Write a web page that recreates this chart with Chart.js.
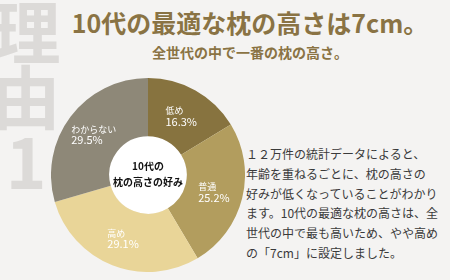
<!DOCTYPE html>
<html>
<head>
<meta charset="utf-8">
<script src="https://cdn.jsdelivr.net/npm/chart.js@4/dist/chart.umd.min.js"></script>
<style>
html,body{margin:0;padding:0;}
body{width:450px;height:280px;background:#f4f3f2;position:relative;overflow:hidden;font-family:"Noto Sans CJK JP","Noto Sans",sans-serif;}
#side{position:absolute;left:-9px;top:-3px;width:70px;font-size:69px;font-weight:bold;line-height:65px;color:#dcdad8;text-align:center;}
#title{position:absolute;left:50px;width:400px;top:6px;text-align:center;font-size:25px;font-weight:bold;color:#8a7344;line-height:32px;white-space:nowrap;}
#sub{position:absolute;left:50px;width:400px;top:42px;text-align:center;font-size:14px;font-weight:bold;color:#8a7344;line-height:20px;white-space:nowrap;}
#para{position:absolute;left:246px;top:144px;font-size:12px;line-height:19.8px;color:#3a3a3a;white-space:nowrap;}
#wrap{position:absolute;left:51px;top:78px;width:194px;height:194px;}
</style>
</head>
<body>
<div id="side">理<br>由<br>1</div>
<div id="title">10代の最適な枕の高さは7cm。</div>
<div id="sub">全世代の中で一番の枕の高さ。</div>
<div id="para">１２万件の統計データによると、<br>年齢を重ねるごとに、枕の高さの<br>好みが低くなっていることがわかり<br>ます。10代の最適な枕の高さは、全<br>世代の中で最も高いため、やや高め<br>の「7cm」に設定しました。</div>
<div id="wrap"><canvas id="c"></canvas></div>
<script>
const categories = ['低め', '普通', '高め', 'わからない'];
const values = [16.3, 25.2, 29.1, 29.5];
const colors = ['#87733f', '#b29d5e', '#e9d598', '#8e8878'];
const centerLines = ['10代の', '枕の高さの好み'];

const labelPlugin = {
  id: 'sliceLabels',
  afterDatasetsDraw(chart) {
    const ctx = chart.ctx;
    const meta = chart.getDatasetMeta(0);
    ctx.save();
    ctx.fillStyle = '#ffffff';
    ctx.textBaseline = 'middle';
    ctx.textAlign = 'left';
    const catFont = '9px "Noto Sans CJK JP", sans-serif';
    const valFont = '11px "Noto Sans CJK JP", sans-serif';
    meta.data.forEach((arc, i) => {
      const p = arc.getProps(['x','y','startAngle','endAngle','innerRadius','outerRadius'], true);
      const mid = (p.startAngle + p.endAngle) / 2;
      const r = p.innerRadius + (p.outerRadius - p.innerRadius) * 0.5;
      const ax = p.x + Math.cos(mid) * r;
      const ay = p.y + Math.sin(mid) * r;
      const cat = categories[i];
      const val = values[i].toFixed(1) + '%';
      ctx.font = catFont;
      const w1 = ctx.measureText(cat).width;
      ctx.font = valFont;
      const w2 = ctx.measureText(val).width;
      const w = Math.max(w1, w2);
      const x0 = ax - w / 2;
      ctx.font = catFont;
      ctx.fillText(cat, x0, ay - 5);
      ctx.font = valFont;
      ctx.fillText(val, x0, ay + 6);
    });
    const a = meta.data[0];
    ctx.fillStyle = '#111111';
    ctx.textAlign = 'center';
    ctx.font = 'bold 10px "Noto Sans CJK JP", sans-serif';
    ctx.fillText(centerLines[0], a.x, a.y - 9);
    ctx.fillText(centerLines[1], a.x, a.y + 7);
    ctx.restore();
  }
};

const bgPlugin = {
  id: 'holeFill',
  beforeDatasetsDraw(chart) {
    const a = chart.getDatasetMeta(0).data[0];
    if (!a) return;
    const ctx = chart.ctx;
    ctx.save();
    ctx.fillStyle = '#ffffff';
    ctx.beginPath();
    ctx.arc(a.x, a.y, a.innerRadius, 0, Math.PI * 2);
    ctx.fill();
    ctx.restore();
  }
};

new Chart(document.getElementById('c'), {
  type: 'doughnut',
  data: {
    labels: categories,
    datasets: [{ data: values, backgroundColor: colors, borderWidth: 0 }]
  },
  options: {
    responsive: true,
    maintainAspectRatio: false,
    animation: false,
    cutout: '40%',
    layout: { padding: 0 },
    plugins: { legend: { display: false }, tooltip: { enabled: false } }
  },
  plugins: [bgPlugin, labelPlugin]
});
</script>
</body>
</html>
